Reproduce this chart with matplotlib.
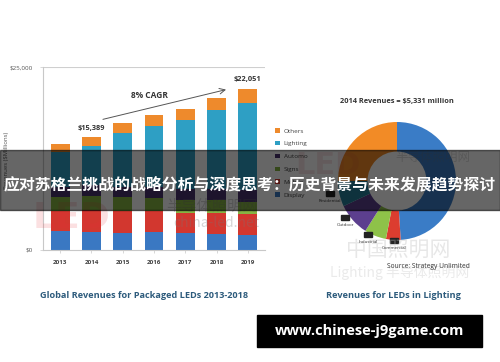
import matplotlib
matplotlib.use("Agg")
import matplotlib.pyplot as plt
from matplotlib.patches import Rectangle
import numpy as np

# bar chart data ($ millions), bottom to top
years = ["2013", "2014", "2015", "2016", "2017", "2018", "2019"]
display = [2600, 2500, 2360, 2450, 2320, 2190, 2050]
mobile = [2750, 2900, 2960, 2850, 2730, 2870, 2870]
signs = [1900, 2000, 1900, 1850, 1800, 1750, 1700]
automo = [1300, 1428, 1400, 1450, 1500, 1550, 1600]
lighting = [4881, 5331, 7400, 8340, 9400, 10760, 11831]
others = [1050, 1230, 1370, 1460, 1550, 1680, 2000]

segments = [("Display", display, "#3a78c2"),
            ("Mobile", mobile, "#d2372f"),
            ("Signs", signs, "#86b443"),
            ("Automo", automo, "#4a3470"),
            ("Lighting", lighting, "#2e9fc4"),
            ("Others", others, "#ee8a2c")]

# donut data (share of 2014 lighting revenue, %)
donut_share = [49, 4, 6, 9, 7, 25]
donut_colors = ["#3a7cc6", "#dc3d2f", "#8ec249", "#5c3f8e", "#237f98", "#f28b26"]
donut_labels = ["Residential", "Outdoor", "Industrial", "Commercial"]

W, H = 500, 362
fig = plt.figure(figsize=(5, 3.62), dpi=100)
fig.patch.set_facecolor("white")


def fx(x):
    return x / W


def fy(y):
    return 1 - y / H


# ---- stacked bars ----
ax = fig.add_axes([fx(43), fy(250), (265 - 43) / W, (250 - 67) / H])
x = np.arange(len(years))
bottom = np.zeros(len(years))
handles = []
for name, vals, col in segments:
    b = ax.bar(x, vals, 0.6, bottom=bottom, color=col, label=name, zorder=2)
    handles.append(b)
    bottom += np.array(vals)

ax.set_xlim(-0.55, 6.55)
ax.set_ylim(0, 25000)
ax.axhline(25000, color="#cfcfcf", lw=0.8, zorder=1)
for s in ["top", "right"]:
    ax.spines[s].set_visible(False)
for s in ["left", "bottom"]:
    ax.spines[s].set_color("#c8c8c8")
    ax.spines[s].set_linewidth(0.8)
ax.set_yticks([0, 25000])
ax.set_yticklabels(["$0", "$25,000"], fontsize=4.5, color="#555555",
                   family="Open Sans")
ax.set_xticks(x)
ax.set_xticklabels(years, fontsize=4.5, color="#444444", family="Open Sans",
                   fontweight="bold")
ax.tick_params(length=2, width=0.5, color="#c8c8c8", pad=5)
ax.set_facecolor("none")

fig.text(fx(7), fy(160), "Revenues ($Millions)", rotation=90, fontsize=4.3,
         color="#555555", ha="center", va="center", family="Open Sans")

ax.text(1, 15389 + 700, "$15,389", ha="center", va="bottom", fontsize=5.3,
        fontweight="bold", color="#333333", family="Open Sans")
ax.text(6, 22051 + 700, "$22,051", ha="center", va="bottom", fontsize=5.3,
        fontweight="bold", color="#333333", family="Open Sans")
ax.text(2.84, 21170, "8% CAGR", ha="center", va="center", fontsize=6,
        fontweight="bold", color="#333333", family="Open Sans")
ax.annotate("", xy=(5.39, 22000), xytext=(1.28, 17760),
            arrowprops=dict(arrowstyle="->", color="#555555", lw=0.7))

leg = fig.legend(handles=handles[::-1], loc="upper left",
                 bbox_to_anchor=(fx(272), fy(125)), frameon=False,
                 fontsize=4.6, handlelength=0.7, handleheight=0.7,
                 labelspacing=1.15, handletextpad=0.6, borderpad=0)
for t in leg.get_texts():
    t.set_color("#444444")
    t.set_family("Open Sans")

fig.text(fx(144), fy(295), "Global Revenues for Packaged LEDs 2013-2018",
         ha="center", va="center", fontsize=6.6, fontweight="bold",
         color="#2d5b7c", family="Open Sans")

# ---- donut ----
ax2 = fig.add_axes([fx(338), fy(240), 118 / W, 118 / H])
ax2.pie(donut_share, colors=donut_colors, startangle=90, counterclock=False,
        radius=1, wedgeprops=dict(width=0.5, edgecolor="none"))
ax2.set_xlim(-1, 1)
ax2.set_ylim(-1, 1)
ax2.set_aspect("equal")
ax2.axis("off")

fig.text(fx(397), fy(102), "2014 Revenues = $5,331 million", ha="center",
         va="center", fontsize=5.3, fontweight="bold", color="#333333",
         family="Open Sans")
label_pos = [(330, 201), (345, 225), (368, 242), (394, 248)]
for lab, (lx, ly) in zip(donut_labels, label_pos):
    fig.text(fx(lx), fy(ly), lab, ha="center", va="center", fontsize=3.2,
             color="#333333", family="Open Sans", zorder=6)
    fig.patches.append(Rectangle((fx(lx - 4), fy(ly - 5)), 8 / W, 5 / H,
                                 transform=fig.transFigure, color="#222222",
                                 zorder=4))

fig.text(fx(428), fy(267), "Source: Strategy Unlimited", ha="center",
         va="center", fontsize=4.8, color="#333333", family="Open Sans",
         zorder=6)
fig.text(fx(393), fy(295), "Revenues for LEDs in Lighting", ha="center",
         va="center", fontsize=6.6, fontweight="bold", color="#2d5b7c",
         family="Open Sans")

# ---- watermarks ----
cjk = ["Noto Sans CJK SC", "DejaVu Sans"]
fig.text(fx(72), fy(218), "LED", ha="center", va="center", fontsize=26,
         fontweight="bold", color="#e8303a", alpha=0.15, zorder=5)
fig.text(fx(328), fy(165), "LED", ha="center", va="center", fontsize=22,
         fontweight="bold", color="#d03a44", alpha=0.13, zorder=5)
fig.text(fx(212), fy(206), "半导体照明网", ha="center", va="center",
         fontsize=11, color="#777777", alpha=0.3, family=cjk, zorder=5)
fig.text(fx(216), fy(223), "china-led.net", ha="center", va="center",
         fontsize=10, color="#777777", alpha=0.3, family=cjk, zorder=5)
fig.text(fx(433), fy(157), "半导体照明网", ha="center", va="center",
         fontsize=9, color="#777777", alpha=0.25, family=cjk, zorder=5)
fig.text(fx(398), fy(250), "中国照明网", ha="center", va="center",
         fontsize=15, color="#bbbbbb", alpha=0.35, family=cjk, zorder=5)
fig.text(fx(400), fy(272), "Lighting 半导体照明网", ha="center",
         va="center", fontsize=10, color="#bbbbbb", alpha=0.3, family=cjk,
         zorder=5)

# ---- title band ----
fig.patches.append(Rectangle((0, fy(210)), 1, 60 / H, transform=fig.transFigure,
                             color="black", alpha=0.6, zorder=10))
fig.text(0.5, fy(185), "应对苏格兰挑战的战略分析与深度思考：历史背景与未来发展趋势探讨",
         ha="center", va="center", fontsize=11.4, fontweight="bold",
         color="white", family=cjk, zorder=11)

# ---- site box ----
fig.patches.append(Rectangle((fx(257), fy(347)), 225 / W, 32 / H,
                             transform=fig.transFigure, color="black",
                             zorder=10))
fig.text(fx(370), fy(331), "www.chinese-j9game.com", ha="center",
         va="center", fontsize=10.5, fontweight="bold", color="white",
         family="Open Sans", zorder=11)

fig.savefig("out.png", dpi=100)
